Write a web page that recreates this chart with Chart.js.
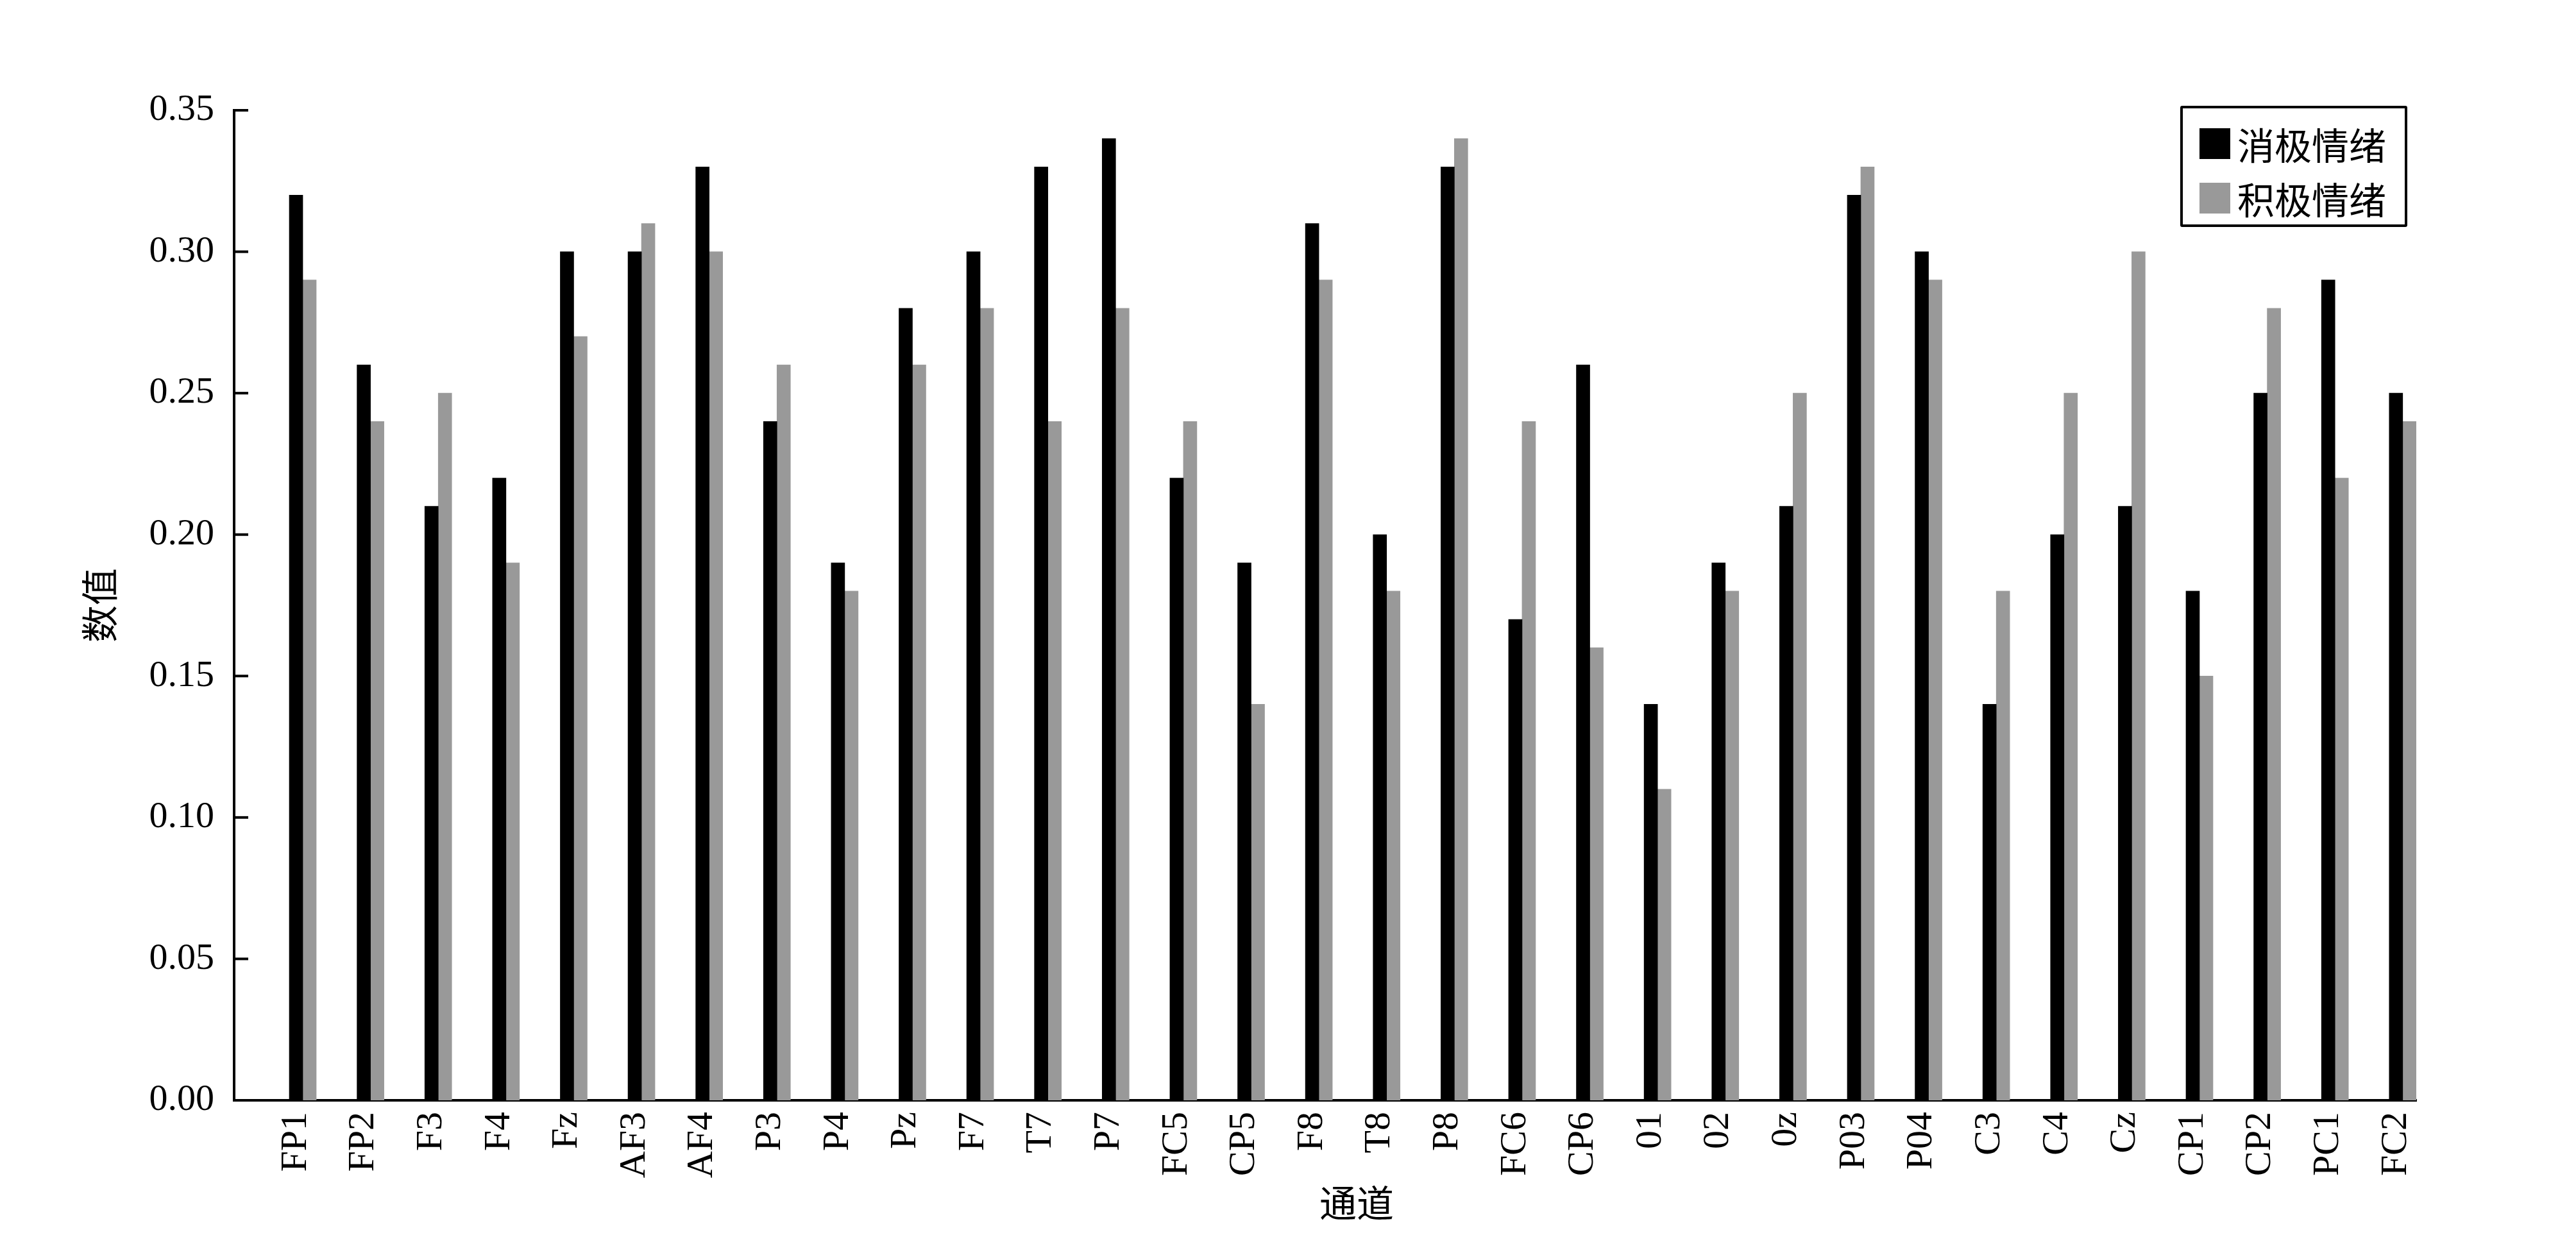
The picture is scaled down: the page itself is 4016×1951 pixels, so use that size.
<!DOCTYPE html>
<html>
<head>
<meta charset="utf-8">
<script src="https://cdn.jsdelivr.net/npm/chart.js@4.4.1/dist/chart.umd.min.js"></script>
<style>
  html, body { margin: 0; padding: 0; background: #fff; }
  #wrap { position: relative; width: 4016px; height: 1951px; }
  #legend {
    position: absolute; left: 3399px; top: 165px; width: 354px; height: 189px;
    box-sizing: border-box; border: 4px solid #000; border-radius: 3px; background: #fff;
    padding-top: 12px;
  }
  #legend .item { display: flex; align-items: center; height: 85px; padding-left: 26px; }
  #legend .sw { width: 48px; height: 48px; margin-right: 11px; }
  #legend .txt { font: 58px "Noto Sans CJK SC", sans-serif; line-height: 1; color: #000; }
</style>
</head>
<body>
<div id="wrap">
  <canvas id="myChart" width="4016" height="1951"></canvas>
  <div id="legend"></div>
</div>
<script>
// 通道
var channels = ['FP1', 'FP2', 'F3', 'F4', 'Fz', 'AF3', 'AF4', 'P3', 'P4', 'Pz', 'F7', 'T7', 'P7', 'FC5', 'CP5', 'F8',
                'T8', 'P8', 'FC6', 'CP6', '01', '02', '0z', 'P03', 'P04', 'C3', 'C4', 'Cz', 'CP1', 'CP2', 'PC1', 'FC2'];

// 消极情绪
var negative = [0.32, 0.26, 0.21, 0.22, 0.30, 0.30, 0.33, 0.24, 0.19, 0.28, 0.30, 0.33, 0.34, 0.22, 0.19, 0.31,
                0.20, 0.33, 0.17, 0.26, 0.14, 0.19, 0.21, 0.32, 0.30, 0.14, 0.20, 0.21, 0.18, 0.25, 0.29, 0.25];

// 积极情绪
var positive = [0.29, 0.24, 0.25, 0.19, 0.27, 0.31, 0.30, 0.26, 0.18, 0.26, 0.28, 0.24, 0.28, 0.24, 0.14, 0.29,
                0.18, 0.34, 0.24, 0.16, 0.11, 0.18, 0.25, 0.33, 0.29, 0.18, 0.25, 0.30, 0.15, 0.28, 0.22, 0.24];

var yTicks = [0, 0.05, 0.10, 0.15, 0.20, 0.25, 0.30, 0.35];

function toPoints(vals) {
  return vals.map(function (v, i) { return { x: i, y: v }; });
}

// empty first slot so the black bar sits on the tick and the grey one right of it
var spacer = channels.map(function (c, i) { return { x: i, y: null }; });

var serif = '"Liberation Serif", "Times New Roman", serif';
var cjk = '"Noto Sans CJK SC", sans-serif';

// inward tick marks on the value axis
var innerTicks = {
  id: 'innerTicks',
  afterDraw: function (chart) {
    var ctx = chart.ctx, y = chart.scales.y, left = chart.chartArea.left;
    ctx.save();
    ctx.strokeStyle = '#000';
    ctx.lineWidth = 4;
    y.ticks.forEach(function (t) {
      var py = y.getPixelForValue(t.value);
      ctx.beginPath();
      ctx.moveTo(left, py);
      ctx.lineTo(left + 22, py);
      ctx.stroke();
    });
    ctx.restore();
  }
};

// the x title in the original sits a little right of the axis centre
var shiftTitle = {
  id: 'shiftTitle',
  beforeDraw: function (chart) {
    var sx = chart.scales.x;
    if (sx._shifted) return;
    var orig = sx.drawTitle;
    sx.drawTitle = function () {
      this.ctx.save();
      this.ctx.translate(49, 0);
      orig.apply(this, arguments);
      this.ctx.restore();
    };
    sx._shifted = true;
  }
};

var ctx = document.getElementById('myChart').getContext('2d');
var myChart = new Chart(ctx, {
  type: 'bar',
  data: {
    datasets: [
      { label: '', data: spacer, backgroundColor: 'rgba(0,0,0,0)' },
      { label: '消极情绪', data: toPoints(negative), backgroundColor: '#000000' },
      { label: '积极情绪', data: toPoints(positive), backgroundColor: '#999999' }
    ]
  },
  options: {
    responsive: false,
    animation: false,
    devicePixelRatio: 1,
    barThickness: 21,
    layout: { padding: { left: 0, top: 172, right: 249, bottom: 0 } },
    plugins: {
      legend: { display: false },
      tooltip: { enabled: false }
    },
    scales: {
      x: {
        type: 'linear',
        offset: false,
        min: -0.914,
        max: 31.3,
        grid: { display: false, drawTicks: false, offset: false },
        border: { display: true, color: '#000', width: 4 },
        ticks: {
          stepSize: 1,
          maxTicksLimit: 60,
          includeBounds: false,
          autoSkip: false,
          minRotation: 90,
          maxRotation: 90,
          padding: 18,
          color: '#000',
          font: { family: serif, size: 58 },
          callback: function (v) { return Number.isInteger(v) ? channels[v] : ''; }
        },
        title: {
          display: true,
          text: '通道',
          color: '#000',
          font: { family: cjk, size: 58 },
          padding: { top: 0, bottom: 40 }
        },
        afterFit: function (s) { s.height = 1951 - 1716; }
      },
      y: {
        min: 0,
        max: 0.35,
        grid: { display: false, drawTicks: false },
        border: { display: true, color: '#000', width: 4 },
        afterBuildTicks: function (s) { s.ticks = yTicks.map(function (v) { return { value: v }; }); },
        ticks: {
          padding: 31,
          color: '#000',
          font: { family: serif, size: 58 },
          callback: function (v) { return Number(v).toFixed(2); }
        },
        title: {
          display: true,
          text: '数值',
          color: '#000',
          font: { family: cjk, size: 58 },
          padding: { top: 120, bottom: 0 }
        },
        afterFit: function (s) { s.width = 365; }
      }
    }
  },
  plugins: [innerTicks, shiftTitle]
});

// legend box in the top right corner, built from the chart's own datasets
var legendEl = document.getElementById('legend');
myChart.data.datasets.forEach(function (ds) {
  if (!ds.label) return;
  var item = document.createElement('div');
  item.className = 'item';
  item.innerHTML = '<span class="sw" style="background:' + ds.backgroundColor + '"></span><span class="txt">' + ds.label + '</span>';
  legendEl.appendChild(item);
});
</script>
</body>
</html>
